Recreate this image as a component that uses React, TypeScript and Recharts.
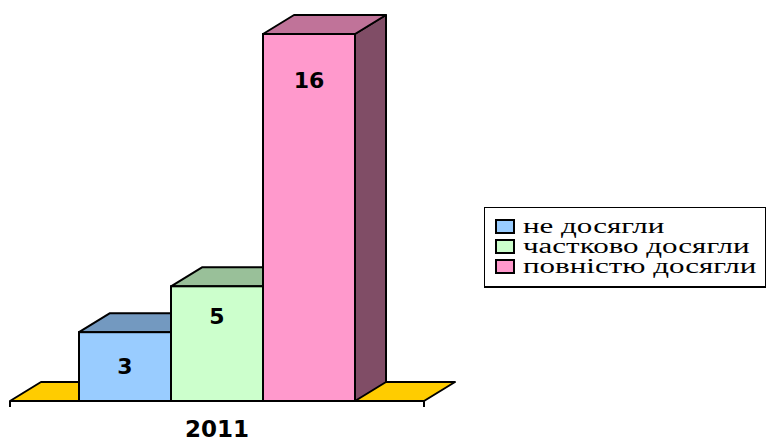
import { BarChart, Bar, XAxis, YAxis, Legend } from 'recharts';

const categories = ['2011'];
const seriesNames = ['не досягли', 'частково досягли', 'повністю досягли'];
const notReached = [3];
const partlyReached = [5];
const fullyReached = [16];

const data = categories.map((year, i) => ({
  year,
  a: notReached[i],
  b: partlyReached[i],
  c: fullyReached[i],
}));

const BAR = 92;
const GAP = 69;
const DX = 31;
const DY = 19;

const styles = [
  { key: 'a', front: '#99CCFF', top: '#7399C0', side: '#4D6680', labelDy: 42 },
  { key: 'b', front: '#CCFFCC', top: '#99C099', side: '#668066', labelDy: 38 },
  { key: 'c', front: '#FF99CC', top: '#C07399', side: '#804D66', labelDy: 54 },
];

function makeShape(idx: number) {
  const st = styles[idx];
  return (props: any) => {
    const { x, y, width: w, height: h, payload } = props;
    const base = y + h;
    const floor = idx === 0
      ? (() => {
          const L = x - GAP;
          const R = x + BAR * styles.length + GAP;
          return (
            <g>
              <polygon
                points={`${L},${base} ${R},${base} ${R + DX},${base - DY} ${L + DX},${base - DY}`}
                fill="#FFCC00" stroke="#000" strokeWidth={2} strokeLinejoin="round"
              />
              <line x1={L} y1={base} x2={L} y2={base + 6} stroke="#000" strokeWidth={2} />
              <line x1={R} y1={base} x2={R} y2={base + 6} stroke="#000" strokeWidth={2} />
            </g>
          );
        })()
      : null;
    return (
      <g>
        {floor}
        <polygon
          points={`${x + w},${y} ${x + w + DX},${y - DY} ${x + w + DX},${base - DY} ${x + w},${base}`}
          fill={st.side} stroke="#000" strokeWidth={2} strokeLinejoin="round"
        />
        <polygon
          points={`${x},${y} ${x + w},${y} ${x + w + DX},${y - DY} ${x + DX},${y - DY}`}
          fill={st.top} stroke="#000" strokeWidth={2} strokeLinejoin="round"
        />
        <rect x={x} y={y} width={w} height={h} fill={st.front} stroke="#000" strokeWidth={2} />
        <text
          x={x + w / 2}
          y={y + st.labelDy}
          textAnchor="middle"
          fontFamily="DejaVu Sans"
          fontWeight="bold"
          fontSize={22}
          fill="#000"
        >
          {payload[st.key]}
        </text>
      </g>
    );
  };
}

const YearTick = (props: any) => {
  const { x, y, payload } = props;
  return (
    <text x={x} y={y + 28} textAnchor="middle" fontFamily="DejaVu Sans" fontWeight="bold" fontSize={23} fill="#000">
      {payload.value}
    </text>
  );
};

const LegendBox = () => (
  <div
    style={{
      boxSizing: 'border-box',
      width: 282,
      height: 81,
      border: '1px solid #000',
      borderBottomWidth: 2,
      background: '#fff',
      paddingTop: 8,
      paddingLeft: 10,
    }}
  >
    {seriesNames.map((name, i) => (
      <div key={name} style={{ display: 'flex', alignItems: 'center', height: 20 }}>
        <div
          style={{
            boxSizing: 'border-box',
            width: 20,
            height: 15,
            border: '2px solid #000',
            background: styles[i].front,
            flex: 'none',
          }}
        />
        <span
          style={{
            marginLeft: 8,
            fontFamily: '"Liberation Serif", "Times New Roman", "DejaVu Serif", serif',
            fontSize: 20,
            lineHeight: '20px',
            whiteSpace: 'nowrap',
            display: 'inline-block',
            transform: 'scaleX(1.55)',
            transformOrigin: 'left center',
            color: '#000',
          }}
        >
          {name}
        </span>
      </div>
    ))}
  </div>
);

export default function App() {
  return (
    <div style={{ position: 'absolute', left: 0, top: 0, width: 768, height: 441, background: '#fff' }}>
      <BarChart
        width={768}
        height={441}
        data={data}
        margin={{ top: 34, right: 344, left: 10, bottom: 0 }}
        barCategoryGap={GAP}
        barGap={0}
        barSize={BAR}
      >
        <XAxis dataKey="year" height={40} axisLine={false} tickLine={false} tick={<YearTick />} />
        <YAxis hide domain={[0, 16]} />
        <Legend
          layout="horizontal"
          verticalAlign="middle"
          align="center"
          content={<LegendBox />}
          wrapperStyle={{ left: 484, top: 207, width: 282, height: 81 }}
        />
        <Bar dataKey="a" name={seriesNames[0]} shape={makeShape(0)} isAnimationActive={false} />
        <Bar dataKey="b" name={seriesNames[1]} shape={makeShape(1)} isAnimationActive={false} />
        <Bar dataKey="c" name={seriesNames[2]} shape={makeShape(2)} isAnimationActive={false} />
      </BarChart>
    </div>
  );
}
